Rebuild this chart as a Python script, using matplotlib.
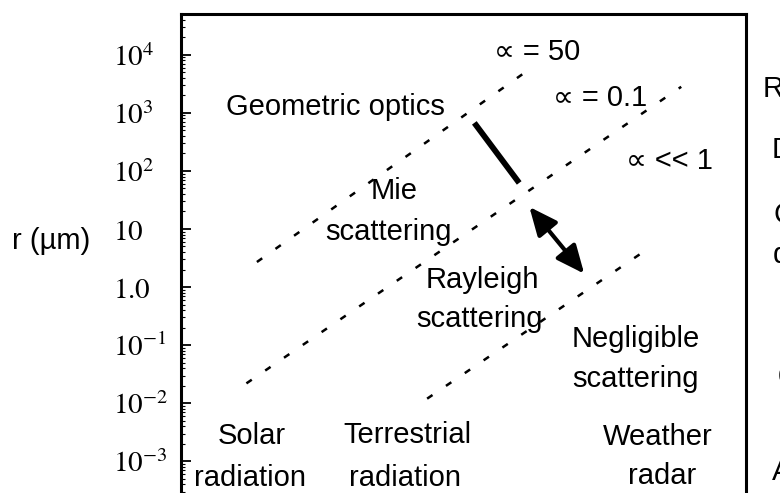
import matplotlib
matplotlib.use("Agg")
import matplotlib.pyplot as plt

plt.rcParams['font.family'] = ['Liberation Sans', 'DejaVu Sans']
plt.rcParams['mathtext.fontset'] = 'stix'

# y ticks (particle radius, um)
r_ticks = [1e-3, 1e-2, 1e-1, 1.0, 10, 1e2, 1e3, 1e4]
r_tick_labels = [r'$10^{-3}$', r'$10^{-2}$', r'$10^{-1}$', r'$1.0$', r'$10$',
                 r'$10^{2}$', r'$10^{3}$', r'$10^{4}$']

# size-parameter boundaries (wavelength um, radius um)
alpha50_lam = [0.8, 1500]
alpha50_r = [2.7, 6000]
alpha01_lam = [0.6, 9.0e4]
alpha01_r = [0.022, 2800]
alpha_small_lam = [85, 3.4e4]
alpha_small_r = [0.012, 4.3]

# thick bar and double arrow
bar_lam = [310, 1060]
bar_r = [670, 62]
arrow_lam = [1400, 6300]
arrow_r = [24, 1.7]

fig = plt.figure(figsize=(7.8, 4.93), dpi=100)
ax = fig.add_axes([0.2321, -0.0537, 0.7244, 1.0253])
ax.set_xscale('log')
ax.set_yscale('log')
ax.set_xlim(10**-1, 10**5.726)
ax.set_ylim(1e-4, 10**4.70)

dash = (0, (2.6, 6.5))
for lam, r in [(alpha50_lam, alpha50_r), (alpha01_lam, alpha01_r),
               (alpha_small_lam, alpha_small_r)]:
    ax.plot(lam, r, color='black', lw=1.8, ls=dash)

ax.plot(bar_lam, bar_r, color='black', lw=4.2, solid_capstyle='butt')
ax.annotate('', xy=(arrow_lam[1], arrow_r[1]), xytext=(arrow_lam[0], arrow_r[0]),
            arrowprops=dict(arrowstyle='<|-|>,head_length=0.9,head_width=0.4',
                            color='black', lw=3, shrinkA=0, shrinkB=0,
                            mutation_scale=19))

# axes styling
for s in ax.spines.values():
    s.set_linewidth(2.2)
ax.set_xticks([])
ax.set_xticks([], minor=True)
ax.set_yticks(r_ticks)
ax.set_yticklabels(r_tick_labels)
ax.tick_params(axis='y', which='major', direction='in', length=7, width=1.3,
               labelsize=21, pad=49)
ax.tick_params(axis='y', which='minor', direction='in', length=3, width=0.8)
for lbl in ax.get_yticklabels():
    lbl.set_horizontalalignment('left')

ax.set_ylabel('r (µm)', rotation=0, fontsize=21, ha='left', va='center')
ax.yaxis.set_label_coords(-0.299, 0.551)

fs = 21
texts = [
    ('∝ = 50', 0.630, 0.909),
    ('∝ = 0.1', 0.742, 0.818),
    ('∝ << 1', 0.865, 0.693),
    ('Geometric optics', 0.274, 0.800),
    ('Mie', 0.377, 0.634),
    ('scattering', 0.368, 0.553),
    ('Rayleigh', 0.533, 0.458),
    ('scattering', 0.529, 0.381),
    ('Negligible', 0.805, 0.341),
    ('scattering', 0.805, 0.262),
    ('Solar', 0.126, 0.149),
    ('radiation', 0.122, 0.066),
    ('Terrestrial', 0.400, 0.151),
    ('radiation', 0.396, 0.066),
    ('Weather', 0.844, 0.147),
    ('radar', 0.851, 0.070),
]
for t, x, y in texts:
    ax.text(x, y, t, transform=ax.transAxes, ha='center', va='baseline',
            fontsize=fs)

# particle types on the right (cut off at the figure edge, as in the scan)
right_texts = [
    ('Raindrops', 1.030, 0.836),
    ('Drizzle', 1.046, 0.715),
    ('Cloud', 1.048, 0.587),
    ('droplets', 1.048, 0.507),
    ('Smoke,', 1.057, 0.355),
    ('dust, haze', 1.057, 0.270),
    ('Air molecules', 1.046, 0.078),
]
for t, x, y in right_texts:
    ax.text(x, y, t, transform=ax.transAxes, ha='left', va='baseline',
            fontsize=fs, clip_on=False)

fig.savefig('out.png', dpi=100)
